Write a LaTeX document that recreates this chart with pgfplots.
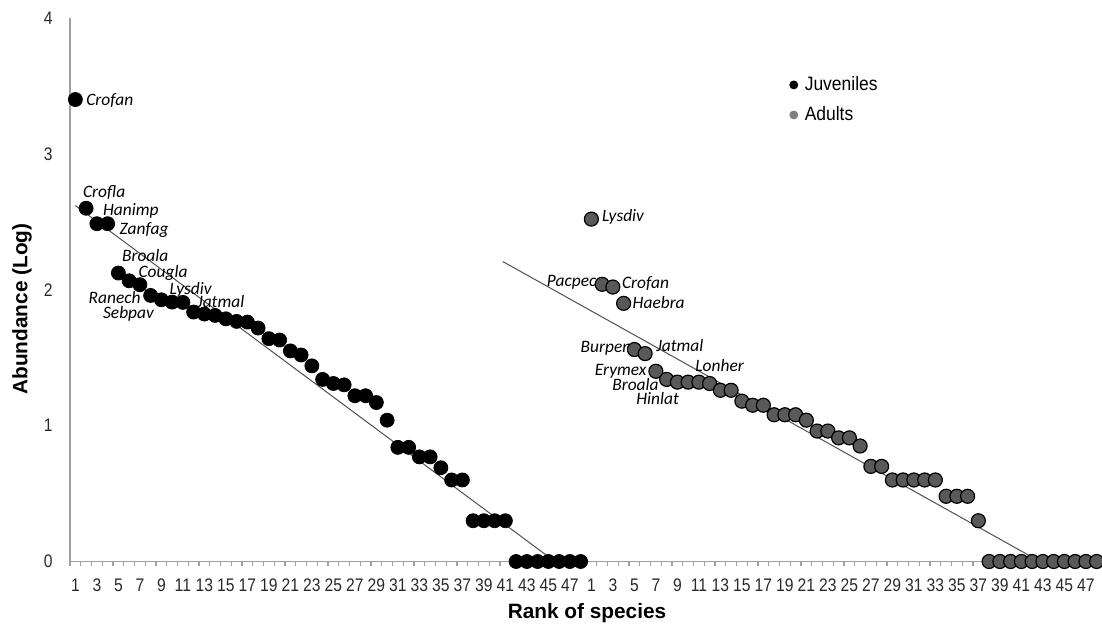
\documentclass[border=0pt]{standalone}
\usepackage{fontspec}
\setmainfont{Liberation Sans}
\newfontfamily\tickfont[FakeStretch=0.86]{Liberation Sans}
\newfontfamily\legfont[FakeStretch=0.9]{Liberation Sans}
\newfontfamily\labfont{Carlito}
\usepackage{pgfplots}
\pgfplotsset{compat=1.18}
\definecolor{axgray}{RGB}{160,160,160}
\definecolor{adultfill}{RGB}{89,89,89}
\definecolor{trend}{RGB}{80,80,80}
\definecolor{leggray}{RGB}{128,128,128}
\definecolor{ticktext}{RGB}{40,40,40}
\tikzset{
  lab/.style={font=\labfont\itshape\fontsize{8.7}{10}\selectfont, inner sep=0pt, anchor=base west, yshift=-2.9pt},
  labe/.style={font=\labfont\itshape\fontsize{8.7}{10}\selectfont, inner sep=0pt, anchor=base east, yshift=-2.9pt},
}
\begin{document}
\begin{tikzpicture}
\path[use as bounding box] (-35pt,-34.75pt) rectangle (516pt,280.75pt);
\begin{axis}[
  scale only axis, width=516pt, height=271.75pt,
  xmin=0.5, xmax=96.5, ymin=0, ymax=4,
  clip=false,
  axis x line=bottom, axis y line=left,
  axis line style={draw=axgray, line width=0.6pt, -},
  xtick={1,3,...,95},
  xticklabels={1,3,5,7,9,11,13,15,17,19,21,23,25,27,29,31,33,35,37,39,41,43,45,47,1,3,5,7,9,11,13,15,17,19,21,23,25,27,29,31,33,35,37,39,41,43,45,47},
  minor xtick={0.5,1.5,...,96.5},
  ytick={0,1,2,3,4}, yticklabels={0,1,2,3,4},
  tick align=outside,
  major tick length=0pt, minor tick length=2.5pt,
  minor tick style={draw=axgray, line width=0.6pt},
  ticklabel style={font=\tickfont\fontsize{9.1}{10}\selectfont, text=ticktext},
  xticklabel style={inner sep=0pt, anchor=north, yshift=-8.3pt},
  yticklabel style={inner sep=0pt, anchor=east, xshift=-8.5pt},
  xlabel={Rank of species},
  ylabel={Abundance (Log)},
  xlabel style={at={(axis description cs:0.501,-0.104)}, anchor=base, font=\fontsize{10.4}{12}\selectfont\bfseries},
  ylabel style={at={(axis description cs:-0.0414,0.4646)}, anchor=base, font=\fontsize{10.4}{12}\selectfont\bfseries},
  legend style={at={(axis description cs:0.6967,0.8933)}, anchor=north west, draw=none, fill=none, inner sep=0pt,
    row sep=6.5pt, font=\legfont\fontsize{9.7}{11}\selectfont, nodes={inner sep=0pt}},
  legend cell align=left,
]
% Juveniles
\addplot[forget plot, only marks, mark=*, mark size=3.5pt, mark options={fill=black, draw=black}] coordinates {
(1,3.40) (2,2.60) (3,2.486) (4,2.486) (5,2.123) (6,2.066) (7,2.037) (8,1.958) (9,1.926) (10,1.909)
(11,1.907) (12,1.836) (13,1.821) (14,1.811) (15,1.786) (16,1.767) (17,1.762) (18,1.718) (19,1.64) (20,1.63)
(21,1.55) (22,1.52) (23,1.44) (24,1.34) (25,1.31) (26,1.30) (27,1.22) (28,1.22) (29,1.17) (30,1.04)
(31,0.84) (32,0.84) (33,0.77) (34,0.77) (35,0.69) (36,0.60) (37,0.60) (38,0.30) (39,0.30) (40,0.30)
(41,0.30) (42,0) (43,0) (44,0) (45,0) (46,0) (47,0) (48,0)
};
% Adults (rank + 48)
\addplot[forget plot, only marks, mark=*, mark size=3.5pt, mark options={fill=adultfill, draw=black, line width=0.6pt}] coordinates {
(49,2.52) (50,2.04) (51,2.02) (52,1.90) (53,1.56) (54,1.53) (55,1.40) (56,1.34) (57,1.32) (58,1.32)
(59,1.32) (60,1.31) (61,1.26) (62,1.26) (63,1.18) (64,1.15) (65,1.15) (66,1.08) (67,1.08) (68,1.08)
(69,1.04) (70,0.96) (71,0.96) (72,0.91) (73,0.91) (74,0.85) (75,0.70) (76,0.70) (77,0.60) (78,0.60)
(79,0.60) (80,0.60) (81,0.60) (82,0.48) (83,0.48) (84,0.48) (85,0.30) (86,0) (87,0) (88,0)
(89,0) (90,0) (91,0) (92,0) (93,0) (94,0) (95,0) (96,0)
};
% Trend lines
\addplot[forget plot, draw=trend, line width=0.5pt] coordinates {(1,2.62) (45.6,0)};
\addplot[forget plot, draw=trend, line width=0.5pt] coordinates {(40.75,2.208) (90.73,0)};
% Species labels, juveniles
\node[lab] at (axis cs:1.99,3.40) {Crofan};
\node[lab] at (axis cs:1.68,2.724) {Crofla};
\node[lab] at (axis cs:3.54,2.589) {Hanimp};
\node[lab] at (axis cs:5.09,2.449) {Zanfag};
\node[lab] at (axis cs:5.31,2.253) {Broala};
\node[lab] at (axis cs:6.85,2.135) {Cougla};
\node[lab] at (axis cs:9.74,2.010) {Lysdiv};
\node[lab] at (axis cs:12.30,1.915) {Jatmal};
\node[lab] at (axis cs:2.20,1.939) {Ranech};
\node[lab] at (axis cs:3.54,1.828) {Sebpav};
% Species labels, adults
\node[lab] at (axis cs:49.96,2.545) {Lysdiv};
\node[labe] at (axis cs:49.50,2.068) {Pacpec};
\node[lab] at (axis cs:51.82,2.054) {Crofan};
\node[lab] at (axis cs:52.81,1.902) {Haebra};
\node[labe] at (axis cs:52.75,1.582) {Burpen};
\node[lab] at (axis cs:55.01,1.590) {Jatmal};
\node[lab] at (axis cs:58.64,1.442) {Lonher};
\node[labe] at (axis cs:54.15,1.408) {Erymex};
\node[labe] at (axis cs:55.29,1.302) {Broala};
\node[lab] at (axis cs:53.15,1.195) {Hinlat};
% Legend
\addlegendimage{legend image code/.code={\fill[black] (2pt,0pt) circle (2pt); \path[draw=none,fill=none] (0pt,0pt) -- (7.5pt,0pt);}}
\addlegendentry{Juveniles}
\addlegendimage{legend image code/.code={\fill[leggray] (2pt,0pt) circle (2pt); \path[draw=none,fill=none] (0pt,0pt) -- (7.5pt,0pt);}}
\addlegendentry{Adults}
\end{axis}
\end{tikzpicture}
\end{document}
